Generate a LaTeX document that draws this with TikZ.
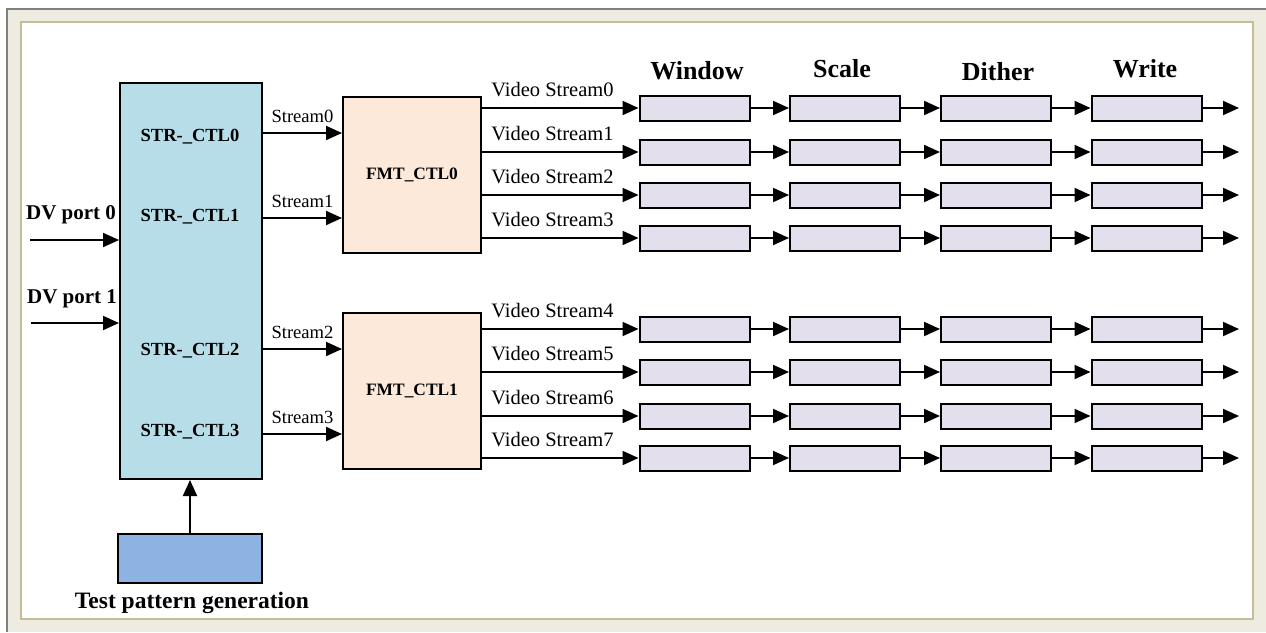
\documentclass[tikz,border=0pt]{standalone}
\usepackage{fontspec}
\setmainfont{Liberation Serif}
\usetikzlibrary{arrows.meta, positioning, calc}
\definecolor{strblue}{HTML}{B7DDE8}
\definecolor{fmtpeach}{HTML}{FDE9D9}
\definecolor{stagelilac}{HTML}{E4DFEC}
\definecolor{tpgblue}{HTML}{8DB3E2}
\definecolor{framebeige}{HTML}{EEECE1}
\definecolor{framegray}{HTML}{808080}
\definecolor{frametan}{HTML}{C4BD97}

\tikzset{
  blk/.style={draw, line width=2pt, inner sep=0pt},
  stage/.style={blk, fill=stagelilac, minimum width=110pt, minimum height=25pt},
  sig/.style={line width=2pt, -{Triangle[length=16pt,width=14pt]}},
  lbl/.style={anchor=base, inner sep=0pt},
  hdr/.style={lbl, font=\fontsize{26}{28}\selectfont\bfseries},
}

\begin{document}
\begin{tikzpicture}[x=1pt, y=-1pt]
        \useasboundingbox (0,0) rectangle (1266,632);
        % Frame
        \fill[framebeige] (7,9) rectangle (1266,632);
        \draw[framegray, line width=1.5pt] (7,632) -- (7,9) -- (1266,9);
        \draw[frametan, line width=1.5pt, fill=white] (21,22) rectangle (1253,619);

        % Stream controller
        \node[blk, fill=strblue, minimum width=142pt, minimum height=396pt] (str) at (191,281) {};
        \node[lbl, font=\fontsize{18.5}{20}\selectfont\bfseries] (ctl0) at (190,141.7) {STR-\_CTL0};
        \node[lbl, font=\fontsize{18.5}{20}\selectfont\bfseries] (ctl1) at (190,221.7) {STR-\_CTL1};
        \node[lbl, font=\fontsize{18.5}{20}\selectfont\bfseries] (ctl2) at (190,355) {STR-\_CTL2};
        \node[lbl, font=\fontsize{18.5}{20}\selectfont\bfseries] (ctl3) at (190,436) {STR-\_CTL3};

        % Inputs
        \coordinate (dv0) at (30,240);
        \coordinate (dv1) at (31,323);
        \node[lbl, font=\fontsize{21}{23}\selectfont\bfseries] (dvl0) at (71,219.3) {DV port 0};
        \node[lbl, font=\fontsize{21}{23}\selectfont\bfseries] (dvl1) at (72,303.3) {DV port 1};
        \draw[sig] (dv0) -- (dv0 -| str.west);
        \draw[sig] (dv1) -- (dv1 -| str.west);

        % Test pattern generation
        \node[blk, fill=tpgblue, minimum width=144pt, minimum height=49pt] (tpg) at (190,558.5) {};
        \node[lbl, font=\fontsize{23.5}{25}\selectfont\bfseries] (tpgl) at (192,608.3) {Test pattern generation};
        \draw[sig] (tpg.north) -- (tpg.north |- str.south);

        % Format controllers
        \node[blk, fill=fmtpeach, minimum width=138pt, minimum height=156pt, font=\fontsize{17.4}{19}\selectfont\bfseries] (fmt0) at (412,175) {FMT\_CTL0};
        \node[blk, fill=fmtpeach, minimum width=138pt, minimum height=156pt, font=\fontsize{17.4}{19}\selectfont\bfseries] (fmt1) at (412,391) {FMT\_CTL1};

        \draw[sig] (str.east |- 0,133) -- node[midway, above=9pt, inner sep=0pt, font=\fontsize{18.6}{20}\selectfont] {Stream0} (fmt0.west |- 0,133);
        \draw[sig] (str.east |- 0,218) -- node[midway, above=9pt, inner sep=0pt, font=\fontsize{18.6}{20}\selectfont] {Stream1} (fmt0.west |- 0,218);
        \draw[sig] (str.east |- 0,349) -- node[midway, above=9pt, inner sep=0pt, font=\fontsize{18.6}{20}\selectfont] {Stream2} (fmt1.west |- 0,349);
        \draw[sig] (str.east |- 0,434) -- node[midway, above=9pt, inner sep=0pt, font=\fontsize{18.6}{20}\selectfont] {Stream3} (fmt1.west |- 0,434);

        % Stage headers
        \node[hdr] (hwin) at (697,79.7) {Window};
        \node[hdr] (hscl) at (842,77.7) {Scale};
        \node[hdr] (hdth) at (998,80.5) {Dither};
        \node[hdr] (hwrt) at (1145,77.7) {Write};

        % Pipeline stages
        \foreach \r/\y in {0/108,1/152,2/195,3/238,4/329,5/372,6/416,7/458} {
            \node[stage] (win\r) at (694.5,\y) {};
            \node[stage] (scl\r) at (845,\y) {};
            \node[stage] (dth\r) at (996,\y) {};
            \node[stage] (wrt\r) at (1146.5,\y) {};
            \coordinate (out\r) at (1239,\y);
            \draw[sig] (win\r) -- (scl\r);
            \draw[sig] (scl\r) -- (dth\r);
            \draw[sig] (dth\r) -- (wrt\r);
            \draw[sig] (wrt\r) -- (out\r);
        }

        % Video streams
        \foreach \r in {0,...,3}
            \draw[sig] (fmt0.east |- win\r) -- node[pos=0.45, above=10pt, inner sep=0pt, font=\fontsize{20.5}{22}\selectfont] {Video Stream\r} (win\r.west);
        \foreach \r in {4,...,7}
            \draw[sig] (fmt1.east |- win\r) -- node[pos=0.45, above=10pt, inner sep=0pt, font=\fontsize{20.5}{22}\selectfont] {Video Stream\r} (win\r.west);
\end{tikzpicture}
\end{document}
